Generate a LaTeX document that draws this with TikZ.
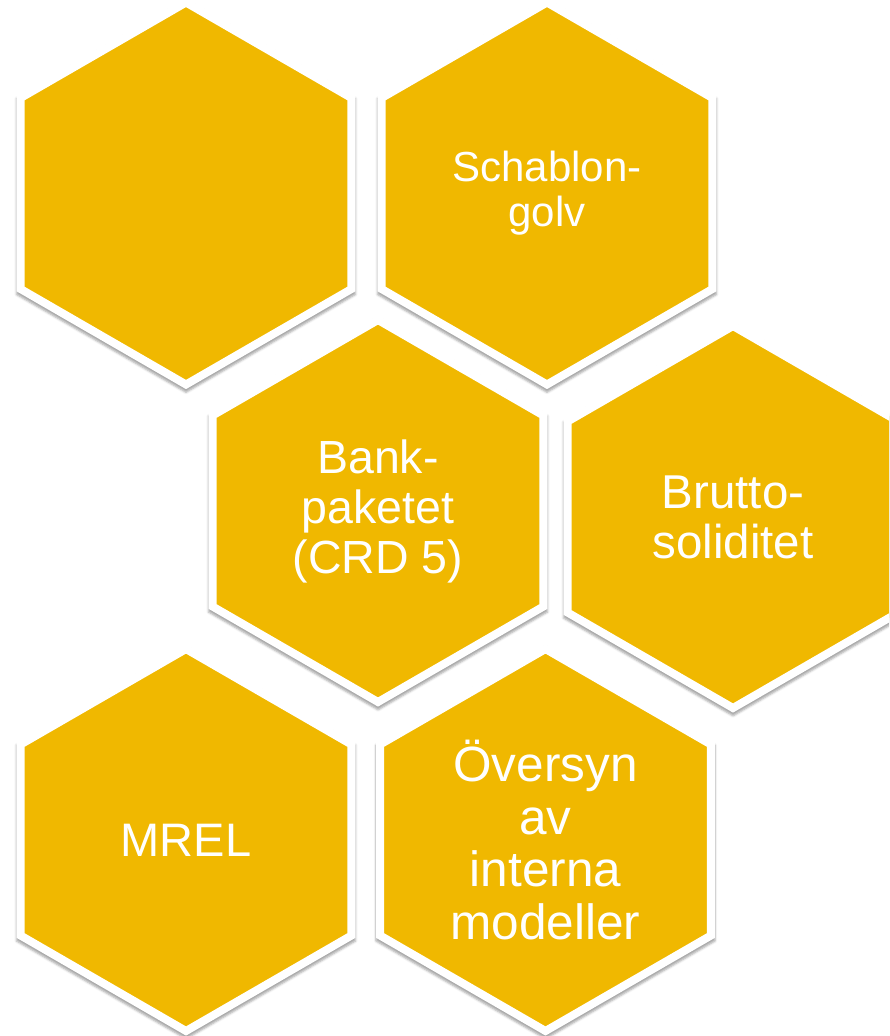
\documentclass[tikz,border=0pt]{standalone}
\usepackage{fontspec}
\setmainfont{Liberation Sans}
\usepackage{tikz}
\usetikzlibrary{shapes.geometric, shadows.blur}
\definecolor{honey}{RGB}{240,184,0}

\begin{document}
\begin{tikzpicture}[x=1pt, y=-1pt,
        hexa/.style={regular polygon, regular polygon sides=6, shape border rotate=30,
            minimum size=382pt, inner sep=0pt, fill=honey, draw=white, line width=8pt,
            text=white, align=center,
            blur shadow={shadow xshift=0pt, shadow yshift=-3pt, shadow scale=1.025, shadow opacity=35}}]
        \clip (0,0) rectangle (889,1036);

        \node[hexa] (blank) at (186,193.5) {};
        \node[hexa, font=\fontsize{42}{45}\selectfont] (schablon) at (547,193.5) {Schablon-\\golv};

        \node[hexa, font=\fontsize{46.5}{50}\selectfont] (bank) at (378,511) {Bank-\\paketet\\(CRD 5)};
        \node[hexa, font=\fontsize{47.5}{50}\selectfont] (brutto) at (733,517) {Brutto-\\soliditet};

        \node[hexa, font=\fontsize{47}{50}\selectfont] (mrel) at (186,840) {MREL};
        \node[hexa, font=\fontsize{49.5}{52.5}\selectfont] (oversyn) at (545.5,840) {Översyn\\av\\interna\\modeller};
    \end{tikzpicture}
\end{document}
